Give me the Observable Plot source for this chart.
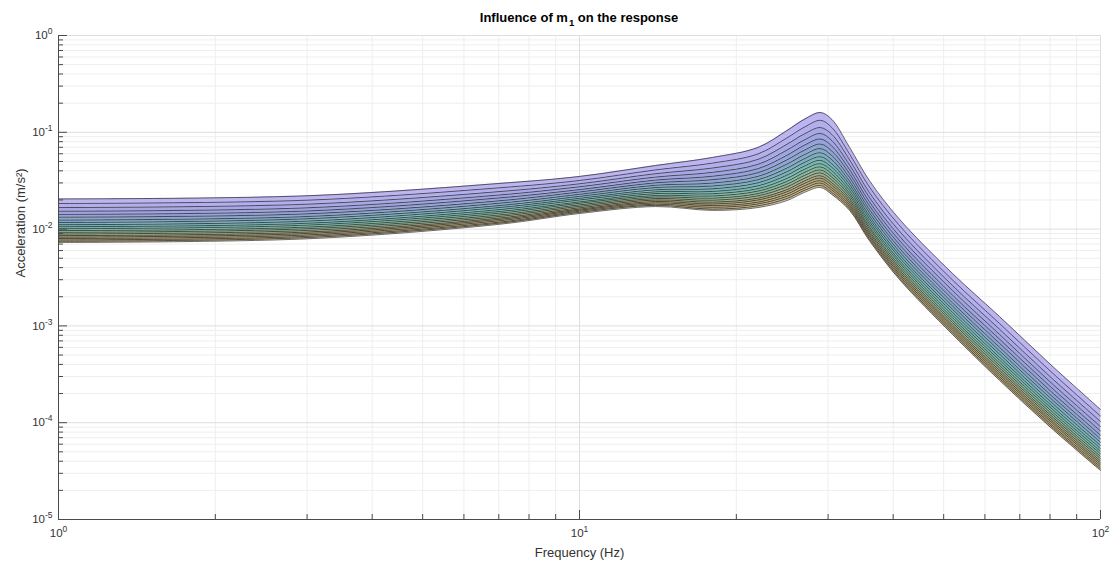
<!DOCTYPE html>
<html><head><meta charset="utf-8">
<script src="https://cdn.jsdelivr.net/npm/d3@7"></script>
<script src="https://cdn.jsdelivr.net/npm/@observablehq/plot@0.6"></script>
<style>
body{margin:0;background:#fff;font-family:"Liberation Sans",Arial,Helvetica,sans-serif;}
#title{width:1115px;height:22px;box-sizing:border-box;padding:11px 15px 0 58px;text-align:center;font-weight:bold;font-size:13px;line-height:13px;color:#000;position:relative;z-index:1;}
#title .sub{font-size:9.5px;position:relative;top:4px;margin-left:1px;}
#chart svg{overflow:visible;}
</style></head><body>
<div id="title">Influence of m<span class="sub">1</span> on the response</div>
<div id="chart"></div>
<script>
// Frequencies (Hz) at which the curves are read
const freqs = [1, 3, 7, 10, 14, 18, 22, 25, 27, 29, 30.5, 33, 36, 41, 52, 64, 80, 100];
// Acceleration (m/s^2) of each of the 20 m1 curves (top -> bottom) at each frequency
const a1 = [0.0205,0.0184,0.0167,0.0153,0.0142,0.0133,0.0124,0.0117,0.0111,0.0106,0.0101,0.00966,0.00927,0.00891,0.00857,0.00828,0.00800,0.00773,0.00750,0.00728];
const a3 = [0.0221,0.0199,0.0181,0.0166,0.0154,0.0144,0.0135,0.0128,0.0121,0.0115,0.0110,0.0105,0.0101,0.00970,0.00933,0.00902,0.00871,0.00843,0.00818,0.00794];
const a7 = [0.0296,0.0267,0.0244,0.0225,0.0210,0.0196,0.0185,0.0175,0.0167,0.0159,0.0152,0.0146,0.0140,0.0135,0.0130,0.0126,0.0122,0.0118,0.0115,0.0112];
const a10 = [0.0350,0.0318,0.0294,0.0274,0.0256,0.0242,0.0229,0.0218,0.0208,0.0200,0.0191,0.0185,0.0178,0.0172,0.0166,0.0161,0.0157,0.0153,0.0149,0.0145];
const a14 = [0.0454,0.0409,0.0374,0.0345,0.0321,0.0301,0.0284,0.0269,0.0255,0.0243,0.0233,0.0223,0.0215,0.0207,0.0200,0.0193,0.0187,0.0181,0.0176,0.0171];
const a18 = [0.0550,0.0481,0.0428,0.0386,0.0352,0.0324,0.0299,0.0279,0.0261,0.0245,0.0232,0.0220,0.0209,0.0199,0.0190,0.0182,0.0175,0.0168,0.0161,0.0156];
const a22 = [0.0697,0.0598,0.0525,0.0467,0.0421,0.0383,0.0351,0.0324,0.0301,0.0280,0.0262,0.0247,0.0233,0.0221,0.0209,0.0200,0.0190,0.0182,0.0174,0.0167];
const a25 = [0.104,0.0875,0.0752,0.0655,0.0579,0.0519,0.0469,0.0427,0.0392,0.0361,0.0334,0.0311,0.0291,0.0273,0.0256,0.0243,0.0230,0.0218,0.0207,0.0197];
const a27 = [0.136,0.113,0.0962,0.0834,0.0735,0.0653,0.0587,0.0533,0.0488,0.0448,0.0414,0.0385,0.0358,0.0335,0.0314,0.0296,0.0280,0.0264,0.0251,0.0239];
const a29 = [0.160,0.133,0.112,0.0973,0.0853,0.0757,0.0679,0.0615,0.0560,0.0513,0.0474,0.0439,0.0408,0.0381,0.0356,0.0336,0.0316,0.0299,0.0283,0.0269];
const a30_5 = [0.136,0.112,0.0951,0.0822,0.0721,0.0640,0.0574,0.0520,0.0473,0.0434,0.0401,0.0371,0.0345,0.0322,0.0301,0.0284,0.0267,0.0253,0.0239,0.0228];
const a33 = [0.0697,0.0594,0.0518,0.0458,0.0410,0.0372,0.0339,0.0311,0.0288,0.0268,0.0250,0.0234,0.0221,0.0208,0.0197,0.0187,0.0178,0.0170,0.0163,0.0156];
const a36 = [0.0318,0.0273,0.0239,0.0213,0.0192,0.0175,0.0160,0.0148,0.0137,0.0128,0.0120,0.0113,0.0106,0.0101,0.00955,0.00910,0.00867,0.00830,0.00794,0.00762];
const a41 = [0.0129,0.0111,0.00970,0.00862,0.00777,0.00706,0.00647,0.00596,0.00553,0.00517,0.00483,0.00456,0.00429,0.00406,0.00386,0.00367,0.00350,0.00335,0.00320,0.00308];
const a52 = [0.00348,0.00298,0.00261,0.00232,0.00208,0.00189,0.00173,0.00160,0.00148,0.00138,0.00129,0.00121,0.00114,0.00108,0.00102,0.000975,0.000929,0.000887,0.000849,0.000815];
const a64 = [0.00125,0.00106,0.000925,0.000817,0.000731,0.000661,0.000601,0.000553,0.000511,0.000474,0.000443,0.000415,0.000390,0.000368,0.000348,0.000330,0.000314,0.000299,0.000286,0.000274];
const a80 = [0.000404,0.000344,0.000300,0.000265,0.000238,0.000215,0.000196,0.000181,0.000167,0.000155,0.000145,0.000136,0.000128,0.000121,0.000115,0.000109,0.000104,0.0000986,0.0000944,0.0000904];
const a100 = [0.000137,0.000117,0.000103,0.0000912,0.0000820,0.0000743,0.0000681,0.0000628,0.0000582,0.0000542,0.0000508,0.0000478,0.0000450,0.0000426,0.0000403,0.0000384,0.0000366,0.0000349,0.0000334,0.0000321];
const accelAtFreq = [a1, a3, a7, a10, a14, a18, a22, a25, a27, a29, a30_5, a33, a36, a41, a52, a64, a80, a100];

// Axis ticks
const xMajor = [1, 10, 100];
const xMinor = [2,3,4,5,6,7,8,9,20,30,40,50,60,70,80,90];
const yMajor = [1e-5, 1e-4, 1e-3, 1e-2, 1e-1, 1];
const yMinor = [];
[1e-5,1e-4,1e-3,1e-2,1e-1].forEach(d => [2,3,4,5,6,7,8,9].forEach(m => yMinor.push(d*m)));

// Band fill colours, top band -> bottom band
const bandColors = ["#bdb5f2","#b3aeec","#a9a8e6","#a0a4e0","#96a2da","#8ea4d2","#86a9ca","#7eaec2","#78b3bb","#76b8b4","#7ab9aa","#82b8a0","#8db496","#99ae8a","#a4a87f","#aea478","#b6a676","#bcab7c","#c3b384"];

const nCurves = a1.length;
const lineRows = [];
for (let c = 0; c < nCurves; c++) freqs.forEach((f, j) => lineRows.push({f, a: accelAtFreq[j][c], c}));
const bandRows = [];
for (let b = 0; b < nCurves - 1; b++) freqs.forEach((f, j) => bandRows.push({f, hi: accelAtFreq[j][b], lo: accelAtFreq[j][b + 1], b}));

const W = 1115, H = 539, mT = 13, mB = 42, mL = 58, mR = 15;
const plotW = W - mL - mR, plotH = H - mT - mB;
const axisColor = "#4a4a4a";
const expLabel = d => "10^" + Math.round(Math.log10(d));

const svg = Plot.plot({
  width: W, height: H,
  marginTop: mT, marginBottom: mB, marginLeft: mL, marginRight: mR,
  x: {type: "log", domain: [1, 100]},
  y: {type: "log", domain: [1e-5, 1]},
  color: {type: "identity"},
  style: {fontFamily: "'Liberation Sans', Arial, Helvetica, sans-serif", background: "transparent", color: "#333", overflow: "visible"},
  marks: [
    Plot.ruleY(yMinor, {stroke: "#eeeeee"}),
    Plot.ruleX(xMinor, {stroke: "#eeeeee"}),
    Plot.ruleY(yMajor, {stroke: "#dedede"}),
    Plot.ruleX(xMajor, {stroke: "#dedede"}),
    Plot.areaY(bandRows, {x: "f", y1: "lo", y2: "hi", z: "b", fill: d => bandColors[d.b], curve: "catmull-rom"}),
    Plot.line(lineRows, {x: "f", y: "a", z: "c", stroke: "#111", strokeWidth: 0.7, strokeOpacity: 0.9, curve: "catmull-rom"}),
    Plot.ruleX([1], {stroke: axisColor}),
    Plot.ruleY([1e-5], {stroke: axisColor}),
    Plot.tickY(yMajor, {y: d => d, stroke: axisColor, insetRight: plotW - 9}),
    Plot.tickY(yMinor, {y: d => d, stroke: axisColor, insetRight: plotW - 5}),
    Plot.tickX(xMajor, {x: d => d, stroke: axisColor, insetTop: plotH - 9}),
    Plot.tickX(xMinor, {x: d => d, stroke: axisColor, insetTop: plotH - 5}),
    Plot.axisY(yMajor, {tickSize: 0, tickPadding: 6, tickFormat: expLabel, fontSize: 11.5, label: null}),
    Plot.axisX(xMajor, {tickSize: 0, tickPadding: 9, tickFormat: expLabel, fontSize: 11.5, label: null}),
    Plot.text(["Frequency (Hz)"], {text: d => d, frameAnchor: "bottom", dy: 33, lineAnchor: "middle", fontSize: 13, fill: "#333"}),
    Plot.text(["Acceleration (m/s²)"], {text: d => d, frameAnchor: "left", dx: -38, rotate: -90, lineAnchor: "middle", fontSize: 13, fill: "#333"})
  ]
});

// Render tick labels as 10 with a raised exponent
svg.querySelectorAll('g[aria-label="x-axis tick label"] text, g[aria-label="y-axis tick label"] text').forEach(t => {
  const s = t.textContent;
  if (!s.includes("^")) return;
  const [base, ex] = s.split("^");
  t.textContent = base;
  const ts = document.createElementNS("http://www.w3.org/2000/svg", "tspan");
  ts.setAttribute("dy", "-5");
  ts.setAttribute("font-size", "8.5");
  ts.textContent = ex;
  t.appendChild(ts);
});

document.getElementById("chart").appendChild(svg);
</script></body></html>
